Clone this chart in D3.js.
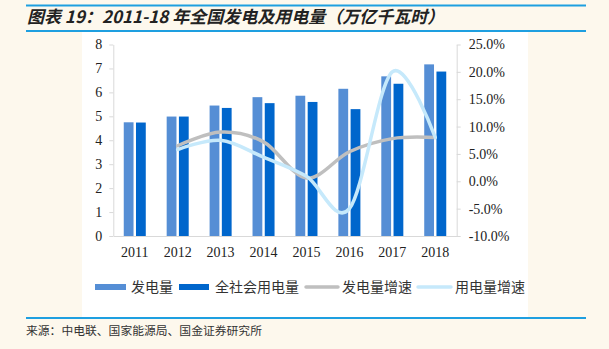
<!DOCTYPE html>
<html><head><meta charset="utf-8">
<script src="https://cdn.jsdelivr.net/npm/d3@7"></script>
<style>
html,body{margin:0;padding:0;background:#fdf8ed;}
svg{display:block;}
</style></head>
<body><svg id="c" width="609" height="349"></svg>
<script>
const years = ["2011","2012","2013","2014","2015","2016","2017","2018"];
const genValues = [4.75, 4.99, 5.45, 5.80, 5.86, 6.15, 6.67, 7.17];
const useValues = [4.74, 4.99, 5.35, 5.55, 5.60, 5.30, 6.36, 6.87];
const genGrowth = [null, 6.5, 9.0, 7.2, 0.6, 5.4, 7.8, 8.0];
const useGrowth = [null, 5.8, 7.5, 4.4, 0.9, -5.0, 20.0, 8.0];
const leftTicks = [0,1,2,3,4,5,6,7,8];
const rightTicks = [-10,-5,0,5,10,15,20,25];
const seriesNames = ["发电量","全社会用电量","发电量增速","用电量增速"];
const colors = ["#558ed5","#0066cc","#bfbfbf","#c6e9fb"];

const svg = d3.select("#c");
// frame
svg.append("rect").attr("x",82).attr("y",32).attr("width",446).attr("height",285).attr("fill","#ffffff");
svg.append("line").attr("x1",26).attr("x2",586).attr("y1",5.5).attr("y2",5.5).attr("stroke","#1e9fe0").attr("stroke-width",2);
svg.append("line").attr("x1",26).attr("x2",586).attr("y1",31).attr("y2",31).attr("stroke","#1e9fe0").attr("stroke-width",2);
svg.append("line").attr("x1",26).attr("x2",586).attr("y1",318).attr("y2",318).attr("stroke","#1e9fe0").attr("stroke-width",2);
svg.append("text").attr("x",27).attr("y",23)
  .attr("font-family","'Noto Sans CJK SC'").attr("font-size",17).attr("font-weight","bold").attr("font-style","italic")
  .attr("fill","#222").text("图表 19：2011-18 年全国发电及用电量（万亿千瓦时）");
svg.append("text").attr("x",26).attr("y",334.5)
  .attr("font-family","'Noto Sans CJK SC'").attr("font-size",11.8).attr("fill","#333")
  .text("来源：中电联、国家能源局、国金证券研究所");

const L = 113.3, R = 456.7, T = 44.5, B = 236;
const x0 = d3.scaleBand().domain(years).range([L,R]).paddingInner(0.487).paddingOuter(0.2435);
const x1 = d3.scaleBand().domain([0,1]).range([0,x0.bandwidth()]).paddingInner(0.2);
const yL = d3.scaleLinear().domain([0,8]).range([B,T]);
const yR = d3.scaleLinear().domain([-10,25]).range([B,T]);
const cx = d => x0(d) + x0.bandwidth()/2;

// axes
const axL = d3.axisLeft(yL).tickValues(leftTicks).tickSize(4).tickSizeOuter(0).tickPadding(7).tickFormat(d3.format("d"));
const gL = svg.append("g").attr("transform",`translate(${L},0)`).call(axL);
const axR = d3.axisRight(yR).tickValues(rightTicks).tickSize(4).tickSizeOuter(0).tickPadding(8).tickFormat(d => d.toFixed(1)+"%");
const gR = svg.append("g").attr("transform",`translate(${R},0)`).call(axR);
const axB = d3.axisBottom(d3.scaleBand().domain(years).range([L,R])).tickSize(0).tickPadding(11);
const gB = svg.append("g").attr("transform",`translate(0,${B})`).call(axB);
[gL,gR,gB].forEach(g=>{
  g.selectAll(".domain").attr("stroke","#d9d9d9");
  g.selectAll(".tick line").attr("stroke","#d9d9d9");
  g.selectAll("text").attr("font-family","'Liberation Serif'").attr("font-size",14).attr("fill","#222");
});

// bars
const bars = svg.append("g");
years.forEach((yr,i)=>{
  [genValues[i], useValues[i]].forEach((v,j)=>{
    bars.append("rect").attr("x",x0(yr)+x1(j)).attr("width",x1.bandwidth())
      .attr("y",yL(v)).attr("height",B-yL(v)).attr("fill",colors[j]);
  });
});

// lines
const line = d3.line().defined(d=>d.v!==null).x(d=>cx(d.y)).y(d=>yR(d.v)).curve(d3.curveCatmullRom.alpha(0));
[genGrowth,useGrowth].forEach((arr,k)=>{
  const data = years.map((y,i)=>({y, v:arr[i]})).filter(d=>d.v!==null);
  svg.append("path").datum(data).attr("d",line).attr("fill","none")
    .attr("stroke",colors[2+k]).attr("stroke-width",3.5).attr("stroke-linecap","round");
});

// legend
const leg = [
  {sx:95, sw:31, tx:131, type:"bar"},
  {sx:179, sw:30, tx:215, type:"bar"},
  {sx:306, sw:32, tx:342, type:"line"},
  {sx:418, sw:33, tx:455, type:"line"}
];
const ly = 287;
leg.forEach((l,i)=>{
  if(l.type==="bar"){
    svg.append("rect").attr("x",l.sx).attr("y",ly-3).attr("width",l.sw).attr("height",6).attr("fill",colors[i]);
  } else {
    svg.append("line").attr("x1",l.sx).attr("x2",l.sx+l.sw).attr("y1",ly).attr("y2",ly)
      .attr("stroke",colors[i]).attr("stroke-width",3.5).attr("stroke-linecap","round");
  }
  svg.append("text").attr("x",l.tx).attr("y",ly).attr("dy","0.35em")
    .attr("font-family","'Noto Sans CJK SC'").attr("font-size",14).attr("fill","#333").text(seriesNames[i]);
});
</script></body></html>
